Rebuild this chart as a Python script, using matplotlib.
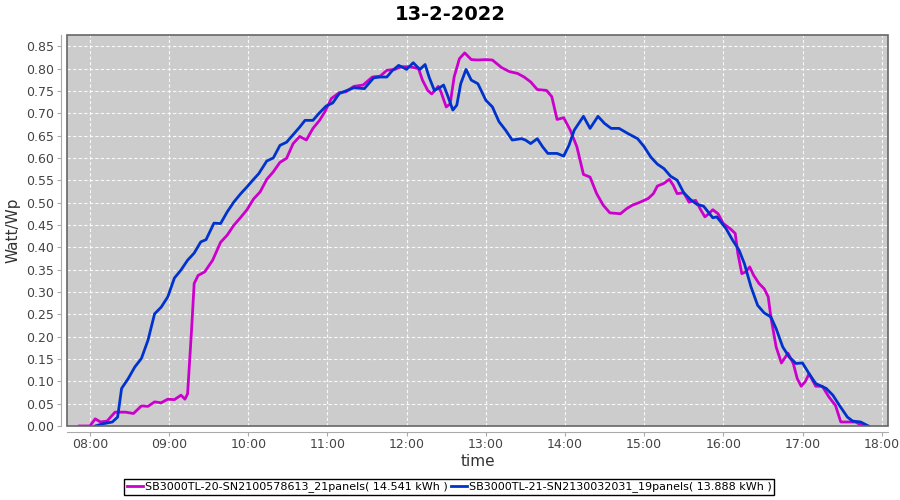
import numpy as np
import matplotlib
matplotlib.use("Agg")
import matplotlib.pyplot as plt
from matplotlib.patches import Rectangle

# --- data ---
titel = "13-2-2022"
naam_20 = "SB3000TL-20-SN2100578613_21panels( 14.541 kWh )"
naam_21 = "SB3000TL-21-SN2130032031_19panels( 13.888 kWh )"

tijd_20 = ["07:52", "08:00", "08:04", "08:08", "08:13", "08:19", "08:27", "08:33", "08:39", "08:44",
           "08:49", "08:54", "08:59", "09:04", "09:09", "09:12", "09:14", "09:17", "09:19", "09:22",
           "09:27", "09:33", "09:39", "09:44", "09:49", "09:54", "09:59", "10:04", "10:09", "10:14",
           "10:19", "10:24", "10:29", "10:34", "10:39", "10:44", "10:49", "10:54", "10:58", "11:03",
           "11:09", "11:14", "11:20", "11:27", "11:34", "11:40", "11:45", "11:51", "11:56", "12:02",
           "12:09", "12:12", "12:16", "12:19", "12:24", "12:26", "12:30", "12:33", "12:36", "12:40",
           "12:44", "12:49", "12:54", "13:00", "13:05", "13:12", "13:18", "13:24", "13:29", "13:34",
           "13:39", "13:46", "13:50", "13:54", "13:59", "14:04", "14:09", "14:14", "14:19", "14:24",
           "14:29", "14:34", "14:42", "14:47", "14:51", "14:57", "15:03", "15:07", "15:10", "15:15",
           "15:19", "15:22", "15:25", "15:30", "15:34", "15:39", "15:43", "15:46", "15:49", "15:52",
           "15:56", "16:00", "16:05", "16:09", "16:11", "16:14", "16:17", "16:20", "16:23", "16:27",
           "16:31", "16:34", "16:36", "16:40", "16:44", "16:49", "16:53", "16:56", "16:59", "17:02",
           "17:05", "17:10", "17:15", "17:20", "17:25", "17:29", "17:35", "17:40", "17:46"]
waarde_20 = [0.000, 0.000, 0.016, 0.009, 0.011, 0.031, 0.031, 0.028, 0.045, 0.044,
             0.054, 0.052, 0.060, 0.059, 0.069, 0.060, 0.072, 0.214, 0.319, 0.337,
             0.345, 0.371, 0.411, 0.427, 0.449, 0.466, 0.484, 0.508, 0.524, 0.552,
             0.569, 0.590, 0.599, 0.632, 0.648, 0.640, 0.666, 0.684, 0.703, 0.733,
             0.746, 0.748, 0.760, 0.763, 0.781, 0.783, 0.796, 0.798, 0.804, 0.804,
             0.800, 0.774, 0.751, 0.743, 0.760, 0.748, 0.714, 0.721, 0.781, 0.822,
             0.835, 0.820, 0.819, 0.820, 0.819, 0.802, 0.793, 0.789, 0.781, 0.770,
             0.753, 0.751, 0.737, 0.686, 0.690, 0.662, 0.625, 0.563, 0.557, 0.520,
             0.494, 0.477, 0.475, 0.487, 0.494, 0.501, 0.509, 0.520, 0.537, 0.543,
             0.552, 0.539, 0.520, 0.522, 0.501, 0.505, 0.483, 0.468, 0.475, 0.484,
             0.475, 0.453, 0.442, 0.431, 0.386, 0.341, 0.345, 0.356, 0.337, 0.319,
             0.307, 0.289, 0.244, 0.177, 0.141, 0.163, 0.140, 0.106, 0.089, 0.099,
             0.117, 0.089, 0.089, 0.065, 0.046, 0.009, 0.009, 0.009, 0.000]

tijd_21 = ["08:04", "08:10", "08:17", "08:21", "08:24", "08:29", "08:34", "08:39", "08:44", "08:49",
           "08:54", "08:59", "09:04", "09:09", "09:14", "09:19", "09:24", "09:28", "09:34", "09:39",
           "09:44", "09:49", "09:54", "09:59", "10:04", "10:08", "10:14", "10:19", "10:24", "10:29",
           "10:34", "10:39", "10:43", "10:49", "10:54", "10:59", "11:04", "11:09", "11:14", "11:20",
           "11:28", "11:35", "11:40", "11:45", "11:49", "11:54", "12:00", "12:05", "12:10", "12:14",
           "12:17", "12:21", "12:25", "12:28", "12:31", "12:35", "12:38", "12:41", "12:45", "12:49",
           "12:54", "13:00", "13:05", "13:10", "13:15", "13:20", "13:27", "13:30", "13:34", "13:39",
           "13:43", "13:47", "13:54", "13:59", "14:03", "14:07", "14:14", "14:19", "14:25", "14:30",
           "14:35", "14:41", "14:48", "14:55", "15:00", "15:05", "15:10", "15:15", "15:20", "15:25",
           "15:30", "15:35", "15:40", "15:45", "15:52", "15:55", "16:02", "16:07", "16:12", "16:16",
           "16:21", "16:26", "16:31", "16:36", "16:40", "16:45", "16:50", "16:55", "17:00", "17:05",
           "17:10", "17:18", "17:23", "17:28", "17:34", "17:38", "17:44", "17:50"]
waarde_21 = [0.000, 0.005, 0.009, 0.020, 0.084, 0.106, 0.132, 0.151, 0.192, 0.251,
             0.266, 0.289, 0.331, 0.349, 0.371, 0.387, 0.412, 0.417, 0.454, 0.453,
             0.479, 0.501, 0.519, 0.535, 0.552, 0.565, 0.593, 0.600, 0.628, 0.635,
             0.652, 0.669, 0.684, 0.684, 0.701, 0.716, 0.723, 0.744, 0.750, 0.757,
             0.755, 0.779, 0.781, 0.781, 0.795, 0.807, 0.798, 0.813, 0.798, 0.809,
             0.781, 0.751, 0.757, 0.763, 0.740, 0.707, 0.718, 0.766, 0.798, 0.774,
             0.766, 0.729, 0.714, 0.681, 0.662, 0.640, 0.643, 0.640, 0.632, 0.643,
             0.625, 0.610, 0.610, 0.604, 0.628, 0.662, 0.693, 0.666, 0.693, 0.677,
             0.666, 0.666, 0.654, 0.643, 0.625, 0.602, 0.586, 0.576, 0.559, 0.550,
             0.522, 0.507, 0.496, 0.492, 0.466, 0.468, 0.442, 0.416, 0.393, 0.363,
             0.311, 0.270, 0.253, 0.244, 0.218, 0.177, 0.154, 0.140, 0.141, 0.117,
             0.095, 0.084, 0.069, 0.046, 0.020, 0.011, 0.009, 0.000]

uren = list(range(8, 19))
y_ticks = [round(0.05 * i, 2) for i in range(18)]


def naar_uren(tijden):
    # "HH:MM" -> uren als float
    return np.array([int(t[:2]) + int(t[3:]) / 60 for t in tijden])


x20 = naar_uren(tijd_20)
x21 = naar_uren(tijd_21)

fig = plt.figure(figsize=(9, 5), dpi=100)
ax = fig.add_axes([0.0744, 0.148, 0.9123, 0.782])
ax.set_facecolor("#cccccc")

ax.plot(x20, waarde_20, color="#cc00cc", lw=2, label=naam_20, zorder=3)
ax.plot(x21, waarde_21, color="#0033cc", lw=2, label=naam_21, zorder=3)

ax.set_xlim(7.71, 18.08)
ax.set_ylim(0, 0.875)
ax.set_xticks(uren)
ax.set_xticklabels([f"{h:02d}:00" for h in uren])
ax.set_yticks(y_ticks)
ax.set_yticklabels([f"{v:.2f}" for v in y_ticks])
ax.grid(True, color="white", linestyle=(0, (3, 2)), linewidth=0.8, alpha=0.9)
ax.set_axisbelow(True)

# assen iets naar buiten, zoals in het origineel
for kant in ["top", "right"]:
    ax.spines[kant].set_visible(False)
for kant in ["left", "bottom"]:
    ax.spines[kant].set_position(("outward", 4))
    ax.spines[kant].set_color("#aaaaaa")
ax.add_patch(Rectangle((0, 0), 1, 1, transform=ax.transAxes, fill=False,
                       edgecolor="#666666", lw=1.2, clip_on=False, zorder=5))
ax.tick_params(colors="#aaaaaa", labelcolor="#444444", labelsize=9, length=3)
ax.tick_params(axis="x", pad=2)
ax.tick_params(axis="y", pad=2)

# titel gecentreerd op de hele figuur
fig.suptitle(titel, x=0.5, y=0.972, va="center", fontsize=14, fontweight="bold")
ax.set_xlabel("time", fontsize=11, color="#333333", labelpad=2)
ax.set_ylabel("Watt/Wp", fontsize=11, color="#333333", labelpad=4)

fig.legend(loc="center", bbox_to_anchor=(0.4994, 0.026), ncol=2, fontsize=8,
           frameon=True, fancybox=False, edgecolor="black", framealpha=1,
           handlelength=1.4, handletextpad=0.2, columnspacing=0.3, borderpad=0.25)

fig.savefig("out.png", dpi=100)
